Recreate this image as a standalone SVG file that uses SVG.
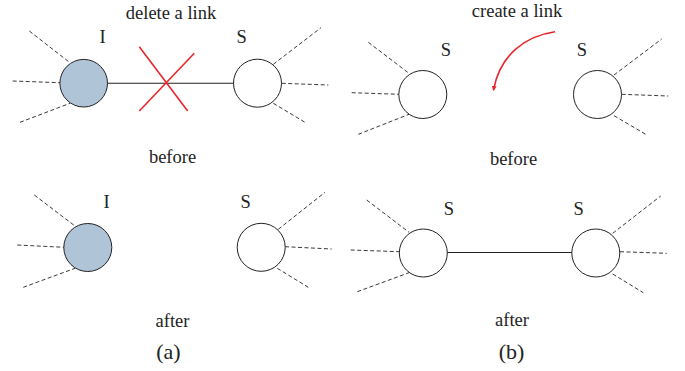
<svg xmlns="http://www.w3.org/2000/svg" width="685" height="371" viewBox="0 0 685 371">
<defs>
<style>
.lbl{font-family:"Liberation Serif","Times New Roman",serif;font-size:18.5px;fill:#222;}
.cap{font-family:"Liberation Serif","Times New Roman",serif;font-size:22px;fill:#222;text-anchor:middle;}
.mid{text-anchor:middle;}
.node{stroke:#222;stroke-width:1;fill:#fff;}
.inf{fill:#b0c4d8;}
.dash{stroke:#222;stroke-width:0.9;stroke-dasharray:4 2.5;fill:none;}
.link{stroke:#222;stroke-width:1.1;fill:none;}
.red{stroke:#e8262a;stroke-width:1.6;fill:none;}
</style>
<marker id="ah" viewBox="0 0 10 10" refX="8" refY="5" markerWidth="5" markerHeight="5" orient="auto" markerUnits="userSpaceOnUse">
<path d="M0,0 L10,5 L0,10 z" fill="#e8262a"/>
</marker>
</defs>

<g id="texts">
<text class="lbl mid" x="171" y="19">delete a link</text>
<text class="lbl mid" x="172.5" y="163">before</text>
<text class="lbl mid" x="172.5" y="326.5">after</text>
<text class="cap" x="168.5" y="358.5">(a)</text>
<text class="lbl mid" x="517" y="17">create a link</text>
<text class="lbl mid" x="513.5" y="165">before</text>
<text class="lbl mid" x="512" y="325.5">after</text>
<text class="cap" x="511.5" y="358.5">(b)</text>
</g>

<g id="connectors">
<line class="link" x1="107.5" y1="83.3" x2="233.5" y2="83.3"/>
<line class="red" x1="139.3" y1="46.7" x2="187.7" y2="111"/>
<line class="red" x1="194.3" y1="53.3" x2="139.3" y2="111"/>
<path class="red" d="M555,31.7 C525,36 500,55 493.5,90" marker-end="url(#ah)"/>
<line class="link" x1="447.3" y1="252.5" x2="571.8" y2="252.5"/>
<!-- stubs a-before I -->
<line class="dash" x1="29.3" y1="31" x2="70" y2="62.7"/>
<line class="dash" x1="12.7" y1="81" x2="60" y2="82.7"/>
<line class="dash" x1="20" y1="122.3" x2="70" y2="103.3"/>
<!-- stubs a-before S -->
<line class="dash" x1="273.3" y1="64.3" x2="321" y2="27.7"/>
<line class="dash" x1="281.7" y1="83.3" x2="328.3" y2="85"/>
<line class="dash" x1="273.3" y1="103.3" x2="305" y2="122.3"/>
<!-- stubs a-after I -->
<line class="dash" x1="34.3" y1="195" x2="75" y2="226"/>
<line class="dash" x1="17.3" y1="245" x2="64" y2="247.3"/>
<line class="dash" x1="23.3" y1="287.3" x2="75" y2="268.3"/>
<!-- stubs a-after S -->
<line class="dash" x1="278.3" y1="229.3" x2="325" y2="192.3"/>
<line class="dash" x1="285" y1="246.7" x2="331.7" y2="249"/>
<line class="dash" x1="277.3" y1="268.3" x2="308.3" y2="287.3"/>
<!-- stubs b-before left -->
<line class="dash" x1="368.3" y1="42.3" x2="409" y2="73.3"/>
<line class="dash" x1="351.7" y1="92.7" x2="399" y2="94.3"/>
<line class="dash" x1="358.3" y1="134.3" x2="409" y2="114.3"/>
<!-- stubs b-before right -->
<line class="dash" x1="614" y1="75" x2="661.7" y2="39"/>
<line class="dash" x1="621.7" y1="94.3" x2="668.3" y2="96"/>
<line class="dash" x1="614" y1="115.7" x2="645.7" y2="134.3"/>
<!-- stubs b-after left -->
<line class="dash" x1="366.7" y1="200" x2="409" y2="232.3"/>
<line class="dash" x1="350.7" y1="250" x2="399.3" y2="251.7"/>
<line class="dash" x1="357.3" y1="291.7" x2="409" y2="272.7"/>
<!-- stubs b-after right -->
<line class="dash" x1="612.7" y1="233.3" x2="660.7" y2="196"/>
<line class="dash" x1="620" y1="251.7" x2="666.7" y2="253.3"/>
<line class="dash" x1="612.7" y1="274" x2="643.3" y2="292.7"/>
</g>

<g id="node-a-before-I">
<circle class="node inf" cx="83.7" cy="83.2" r="23.8"/>
<text class="lbl mid" x="102.7" y="43">I</text>
</g>
<g id="node-a-before-S">
<circle class="node" cx="257.5" cy="83.2" r="24"/>
<text class="lbl mid" x="241.7" y="43">S</text>
</g>
<g id="node-a-after-I">
<circle class="node inf" cx="87.8" cy="247.5" r="24"/>
<text class="lbl mid" x="106.7" y="208">I</text>
</g>
<g id="node-a-after-S">
<circle class="node" cx="261.2" cy="247.3" r="24"/>
<text class="lbl mid" x="245.7" y="208">S</text>
</g>
<g id="node-b-before-left">
<circle class="node" cx="422.8" cy="94.5" r="24"/>
<text class="lbl mid" x="446" y="56">S</text>
</g>
<g id="node-b-before-right">
<circle class="node" cx="597.5" cy="94.5" r="24"/>
<text class="lbl mid" x="582" y="56">S</text>
</g>
<g id="node-b-after-left">
<circle class="node" cx="423.3" cy="253" r="24"/>
<text class="lbl mid" x="449" y="215">S</text>
</g>
<g id="node-b-after-right">
<circle class="node" cx="595.8" cy="253" r="24"/>
<text class="lbl mid" x="578.7" y="215">S</text>
</g>
</svg>
